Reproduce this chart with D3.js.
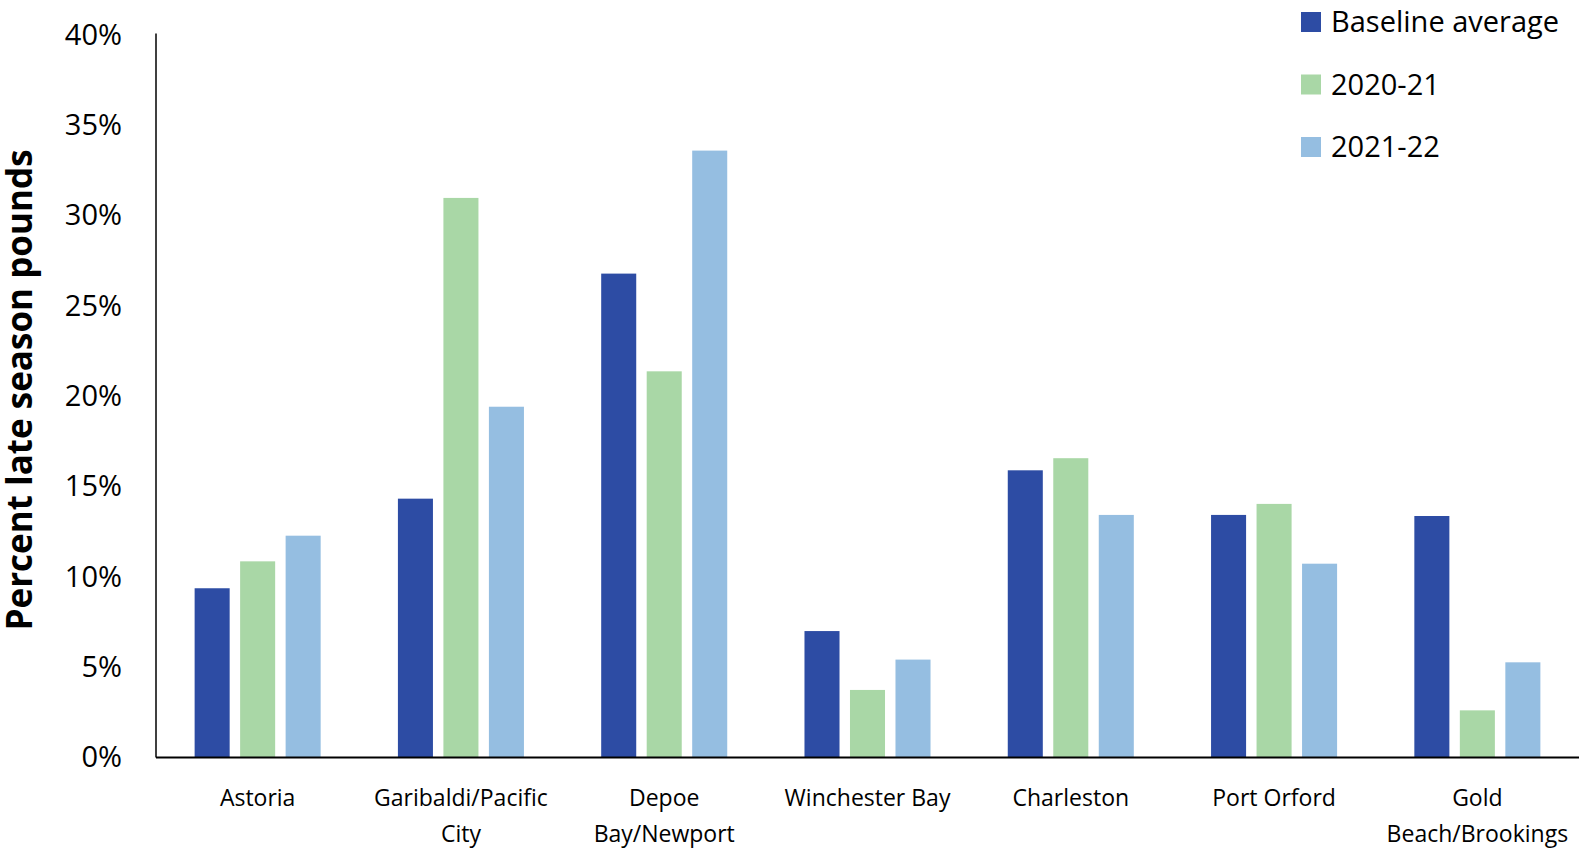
<!DOCTYPE html>
<html>
<head>
<meta charset="utf-8">
<script src="https://cdn.jsdelivr.net/npm/d3@7"></script>
<style>
  html, body { margin: 0; padding: 0; background: #fff; }
  svg { display: block; font-family: "Open Sans", "Noto Sans", sans-serif; }
</style>
</head>
<body>
<svg id="chart" width="1588" height="851"></svg>
<script>
const categories = ["Astoria", "Garibaldi/Pacific City", "Depoe Bay/Newport", "Winchester Bay", "Charleston", "Port Orford", "Gold Beach/Brookings"];
const seriesNames = ["Baseline average", "2020-21", "2021-22"];
const baseline = [0.0937, 0.1433, 0.2679, 0.0700, 0.1590, 0.1343, 0.1337];
const y2020 = [0.1086, 0.3098, 0.2138, 0.0374, 0.1657, 0.1404, 0.0261];
const y2021 = [0.1228, 0.1942, 0.3360, 0.0542, 0.1343, 0.1073, 0.0527];
const yTicks = [0, 0.05, 0.10, 0.15, 0.20, 0.25, 0.30, 0.35, 0.40];
const colors = ["#2D4CA4", "#A9D7A6", "#95BEE1"];

const seriesValues = [baseline, y2020, y2021];
const rows = categories.map((c, i) => ({ cat: c, vals: seriesNames.map((s, j) => ({ s, v: seriesValues[j][i] })) }));

const svg = d3.select("#chart");
const margin = { left: 156, right: 9, top: 35, bottom: 93.5 };
const W = 1588, H = 851;

const x0 = d3.scaleBand().domain(categories).range([margin.left, W - margin.right]).paddingInner(0.38).paddingOuter(0.19);
const x1 = d3.scaleBand().domain(seriesNames).range([0, x0.bandwidth()]).paddingInner(0.23).paddingOuter(0);
const y = d3.scaleLinear().domain([0, 0.40]).range([H - margin.bottom, margin.top]);
const color = d3.scaleOrdinal().domain(seriesNames).range(colors);

// bars
const g = svg.append("g");
g.selectAll("g.grp").data(rows).join("g")
  .attr("class", "grp")
  .attr("transform", d => `translate(${x0(d.cat)},0)`)
  .selectAll("rect").data(d => d.vals).join("rect")
  .attr("x", d => x1(d.s))
  .attr("width", x1.bandwidth())
  .attr("y", d => y(d.v))
  .attr("height", d => y(0) - y(d.v))
  .attr("fill", d => color(d.s));

// y axis
const yAxis = svg.append("g")
  .attr("transform", `translate(${margin.left},0)`)
  .call(d3.axisLeft(y).tickValues(yTicks).tickFormat(d3.format(".0%")).tickSize(0).tickPadding(34));
yAxis.select(".domain").attr("stroke", "#000").attr("stroke-width", 1.5)
  .attr("d", `M0,${margin.top - 1.5}V${y(0)}`);
yAxis.selectAll("text").attr("font-size", 29).attr("fill", "#000")
  .attr("font-family", "'Open Sans', sans-serif");

// x axis
const xAxis = svg.append("g")
  .attr("transform", `translate(0,${y(0)})`)
  .call(d3.axisBottom(x0).tickSize(0).tickPadding(0));
xAxis.select(".domain").attr("stroke", "#000").attr("stroke-width", 2)
  .attr("d", `M${margin.left},0H${W - margin.right}`);
xAxis.selectAll(".tick text").each(function(d) {
  const t = d3.select(this);
  t.text(null).attr("font-size", 23).attr("fill", "#000").attr("dy", null)
    .attr("font-family", "'Open Sans', sans-serif");
  const words = d.split(" ");
  const maxW = 195;
  const lines = [];
  let cur = [];
  const probe = t.append("tspan");
  words.forEach(w => {
    const test = cur.concat([w]).join(" ");
    probe.text(test);
    if (probe.node().getComputedTextLength() > maxW && cur.length) {
      lines.push(cur.join(" "));
      cur = [w];
    } else {
      cur.push(w);
    }
  });
  lines.push(cur.join(" "));
  probe.remove();
  lines.forEach((ln, i) => {
    t.append("tspan").attr("x", 0).attr("y", 48 + i * 36.7).text(ln);
  });
});

// y title
svg.append("text")
  .attr("transform", `translate(32,390) rotate(-90)`)
  .attr("text-anchor", "middle")
  .attr("font-size", 35)
  .attr("font-weight", "bold")
  .attr("fill", "#000")
  .text("Percent late season pounds");

// legend
const legendY = [22, 84.5, 147];
const leg = svg.append("g").selectAll("g").data(seriesNames).join("g")
  .attr("transform", (d, i) => `translate(1301,${legendY[i]})`);
leg.append("rect").attr("x", 0).attr("y", -10).attr("width", 20).attr("height", 20).attr("fill", d => color(d));
leg.append("text").attr("x", 30).attr("y", 0).attr("dy", "0.35em")
  .attr("font-size", 29).attr("fill", "#000").text(d => d);
</script>
</body>
</html>
